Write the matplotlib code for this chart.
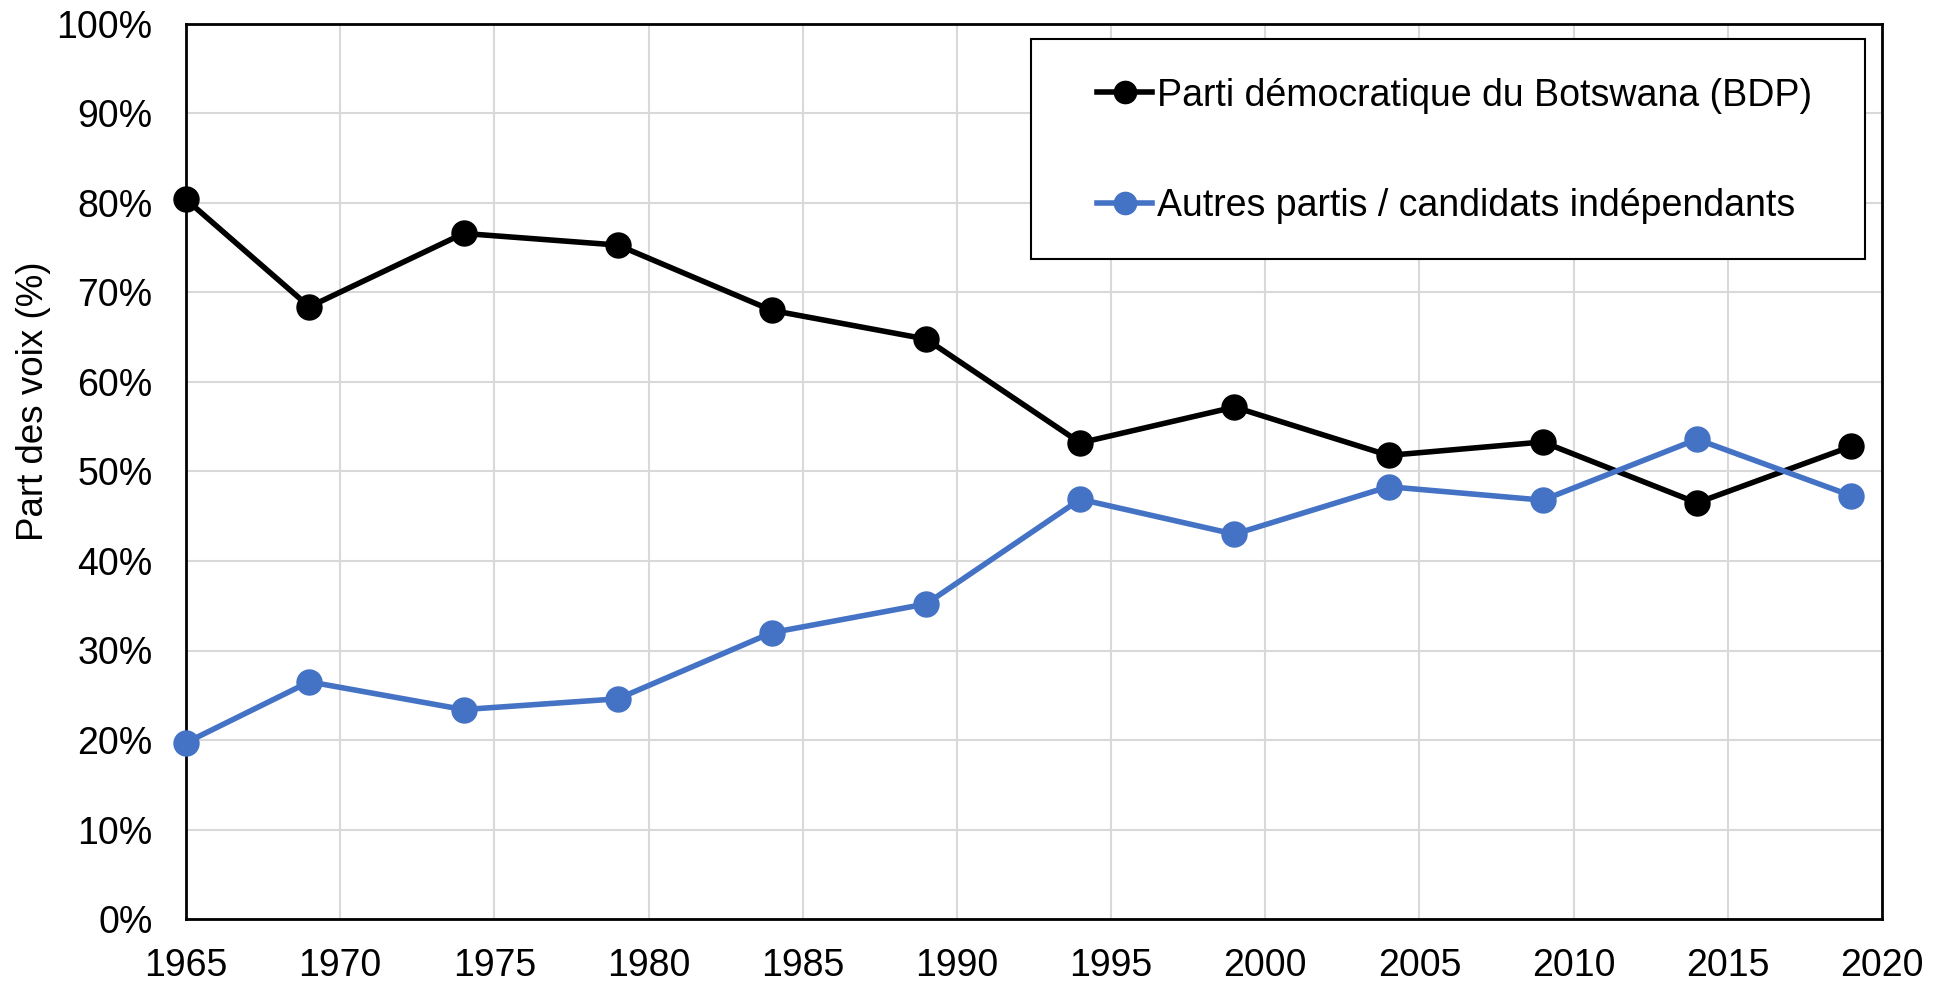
import matplotlib
matplotlib.use("Agg")
import matplotlib.pyplot as plt
from matplotlib.ticker import FuncFormatter, MultipleLocator
from matplotlib.patches import Rectangle

years = [1965, 1969, 1974, 1979, 1984, 1989, 1994, 1999, 2004, 2009, 2014, 2019]
bdp = [80.4, 68.4, 76.6, 75.3, 68.0, 64.8, 53.2, 57.2, 51.8, 53.3, 46.5, 52.8]
others = [19.7, 26.5, 23.4, 24.6, 32.0, 35.2, 46.9, 43.0, 48.3, 46.8, 53.6, 47.3]
label_bdp = "Parti démocratique du Botswana (BDP)"
label_others = "Autres partis / candidats indépendants"
ylabel = "Part des voix (%)"

plt.rcParams['font.family'] = ['Liberation Sans', 'DejaVu Sans']
FS = 27
W, H = 1948, 983

fig = plt.figure(figsize=(19.48, 9.83), dpi=100)
ax = fig.add_axes([186/W, 1 - 919/H, (1882-186)/W, (919-24)/H])

ax.plot(years, bdp, color='black', lw=4, marker='o', ms=18, label=label_bdp, zorder=3, clip_on=False)
ax.plot(years, others, color='#4472C4', lw=4, marker='o', ms=18, label=label_others, zorder=3, clip_on=False)

ax.set_xlim(1965, 2020)
ax.set_ylim(0, 100)
ax.xaxis.set_major_locator(MultipleLocator(5))
ax.yaxis.set_major_locator(MultipleLocator(10))
ax.yaxis.set_major_formatter(FuncFormatter(lambda v, p: f"{int(round(v))}%"))
ax.grid(True, color='#d9d9d9', lw=1.5, zorder=0)
ax.set_axisbelow(True)
for s in ax.spines.values():
    s.set_color('black')
    s.set_linewidth(2)
ax.tick_params(axis='both', length=0, labelsize=FS, colors='black')
ax.tick_params(axis='x', pad=21)
ax.tick_params(axis='y', pad=24)

fig.text(34/W, 1 - 401/H, ylabel, rotation=90, ha='center', va='center', fontsize=26.5)

# legend frame
frame = Rectangle((1031/W, 1 - 259/H), (1865-1031)/W, (259-39)/H, transform=fig.transFigure,
                  facecolor='white', edgecolor='black', lw=1.5, zorder=4)
fig.patches.append(frame)

leg = fig.legend(handles=ax.get_lines(), loc='center left',
                 bbox_to_anchor=(1097/W, 1 - 151/H), bbox_transform=fig.transFigure,
                 fontsize=FS, frameon=False, handlelength=1.47,
                 handletextpad=0.13, labelspacing=2.0, borderpad=0, borderaxespad=0,
                 markerscale=0.89)
leg.set_zorder(5)

fig.savefig("out.png", dpi=100)
